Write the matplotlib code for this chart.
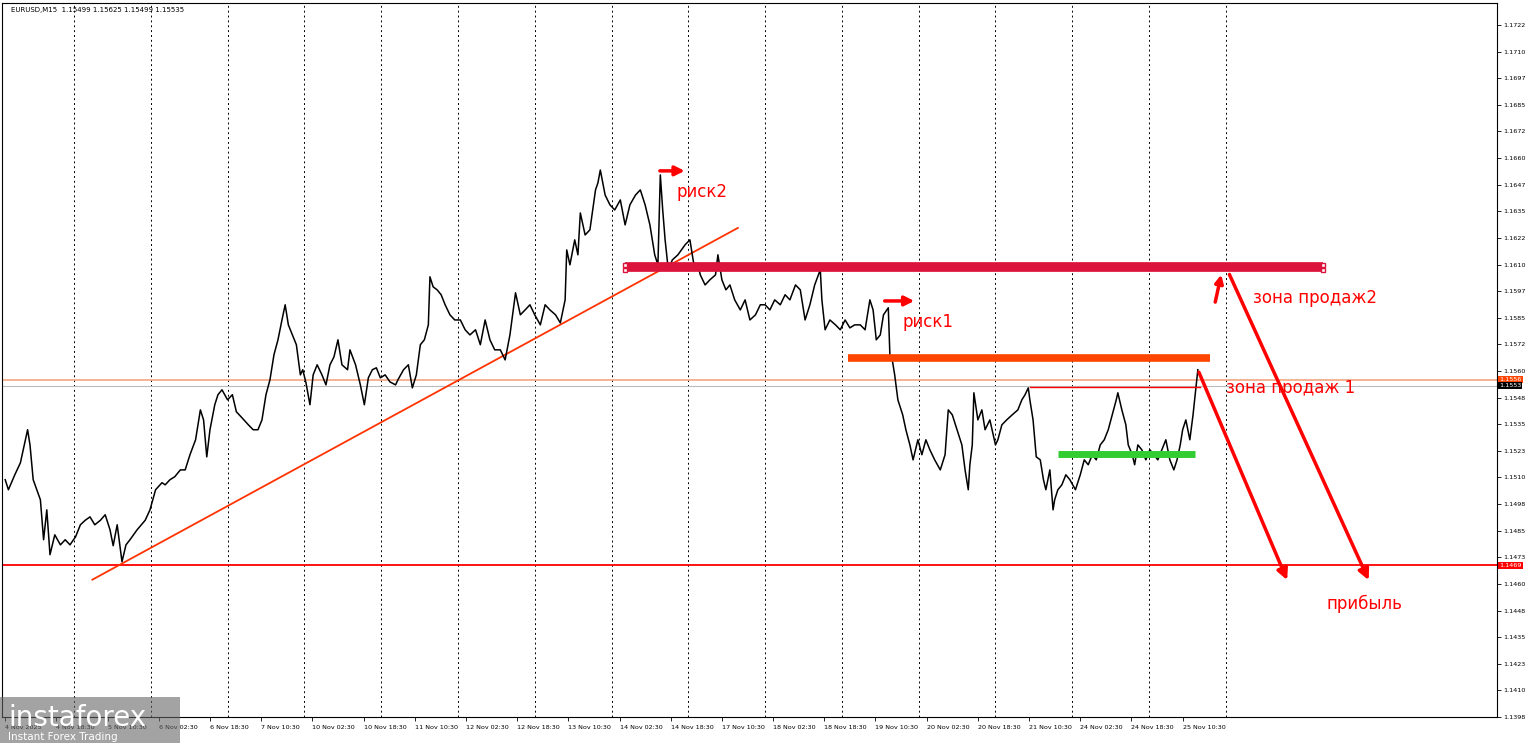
import matplotlib
matplotlib.use("Agg")
import matplotlib.pyplot as plt
from matplotlib.patches import FancyArrowPatch, Rectangle

bars = [0,4,12,19,28,31,35,44,48,52,56,62,69,75,81,88,94,100,106,112,119,125,131,135,140,146,151,156,165,175,181,188,196,200,206,212,219,225,231,238,244,248,252,256,262,266,271,278,284,289,296,304,310,316,321,326,331,336,341,346,350,354,359,364,369,372,376,381,385,390,396,401,406,411,416,421,428,431,438,444,449,454,459,464,469,475,481,488,491,498,504,509,514,519,524,529,531,535,540,545,550,
556,562,569,575,581,588,594,600,606,612,619,625,631,638,644,650,656,662,669,675,681,688,694,700,702,706,712,716,719,725,731,738,741,744,750,756,762,769,775,781,788,794,800,806,812,816,819,822,825,829,834,841,850,856,862,866,869,875,881,888,891,896,901,906,912,919,925,931,938,944,950,956,962,969,975,981,988,994,1000,1006,1012,1019,1021,1025,1031,1038,1044,1050,1056,1062,1069,1075,1081,1085,1089,1094,1098,1104,1106,
1109,1112,1116,1122,1126,1131,1135,1141,1146,1151,1156,1162,1169,1175,1179,1184,1190,1196,1200,1204,1206,1209,1211,1216,1221,1225,1231,1238,1241,1246,1252,1259,1266,1271,1275,1279,1281,1285,1289,1294,1298,1301,1306,1310,1312,1316,1321,1326,1331,1338,1344,1349,1354,1359,1364,1369,1374,1379,1384,1389,1391,1396,1401,1404,1409,1412,1416,1421,1426,1431,1436,1441,1446,1451,1456,1461,1465,1469,1472,1476,1481,1485,1489,1491]
prices = [1.15091,1.15044,1.15114,1.15170,1.15325,1.15254,1.15091,1.14997,1.14810,1.14950,1.14740,1.14833,1.14786,1.14810,1.14786,1.14824,1.14880,1.14901,1.14917,1.14880,1.14901,1.14927,1.14857,1.14782,1.14880,1.14707,1.14786,1.14810,1.14857,1.14901,1.14950,1.15044,1.15077,1.15067,1.15091,1.15105,1.15137,1.15137,1.15208,1.15278,1.15418,1.15371,1.15198,1.15325,1.15442,1.15489,1.15512,1.15465,1.15489,1.15409,1.15381,1.15348,1.15325,1.15325,1.15371,1.15489,1.15559,1.15676,1.15746,1.15839,1.15910,1.15816,1.15769,1.15723,1.15582,1.15606,1.15545,1.15442,1.15582,1.15629,1.15582,1.15535,1.15629,1.15666,1.15746,1.15629,1.15606,1.15699,1.15629,1.15535,1.15442,1.15568,1.15606,1.15615,1.15568,1.15582,1.15549,1.15535,1.15559,1.15606,1.15629,1.15521,1.15582,1.15723,1.15746,1.15816,1.16041,1.15994,1.15980,1.15957,1.15910,
1.15863,1.15839,1.15839,1.15793,1.15769,1.15793,1.15723,1.15839,1.15746,1.15699,1.15699,1.15652,1.15769,1.15966,1.15863,1.15886,1.15910,1.15863,1.15816,1.15910,1.15886,1.15863,1.15825,1.15933,1.16167,1.16097,1.16214,1.16144,1.16340,1.16237,1.16261,1.16448,1.16481,1.16541,1.16424,1.16378,1.16354,1.16401,1.16284,1.16378,1.16424,1.16448,1.16378,1.16284,1.16144,1.16097,1.16518,1.16354,1.16214,1.16074,1.16120,1.16144,1.16191,1.16214,1.16074,1.16097,1.16050,1.16003,1.16027,1.16050,1.16144,1.16027,1.15980,1.16003,1.15933,1.15886,1.15933,1.15839,1.15863,1.15910,1.15910,1.15886,1.15933,1.15910,1.15957,1.15933,1.16003,1.15980,1.15839,1.15910,1.16003,1.16074,1.15933,1.15793,1.15839,1.15816,1.15793,1.15839,1.15802,1.15816,1.15816,1.15793,1.15933,1.15886,1.15746,1.15769,1.15863,1.15896,1.15676,
1.15652,1.15582,1.15465,1.15395,1.15325,1.15254,1.15184,1.15278,1.15208,1.15278,1.15231,1.15184,1.15137,1.15208,1.15418,1.15395,1.15325,1.15254,1.15137,1.15044,1.15161,1.15254,1.15498,1.15371,1.15418,1.15325,1.15371,1.15254,1.15278,1.15348,1.15371,1.15395,1.15418,1.15465,1.15489,1.15521,1.15465,1.15371,1.15198,1.15184,1.15091,1.15044,1.15137,1.14950,1.14997,1.15044,1.15067,1.15114,1.15091,1.15044,1.15114,1.15184,1.15161,1.15208,1.15184,1.15254,1.15278,1.15325,1.15395,1.15465,1.15498,1.15418,1.15348,1.15254,1.15208,1.15161,1.15254,1.15231,1.15184,1.15231,1.15208,1.15184,1.15231,1.15278,1.15184,1.15137,1.15184,1.15254,1.15325,1.15371,1.15278,1.15395,1.15535,1.15606]

x_labels = ["4 Nov 2025","4 Nov 18:30","5 Nov 10:30","6 Nov 02:30","6 Nov 18:30","7 Nov 10:30",
            "10 Nov 02:30","10 Nov 18:30","11 Nov 10:30","12 Nov 02:30","12 Nov 18:30","13 Nov 10:30",
            "14 Nov 02:30","14 Nov 18:30","17 Nov 10:30","18 Nov 02:30","18 Nov 18:30","19 Nov 10:30",
            "20 Nov 02:30","20 Nov 18:30","21 Nov 10:30","24 Nov 02:30","24 Nov 18:30","25 Nov 10:30"]
y_low, y_high, n_y = 1.1398, 1.1722, 26

support = 1.1469
ask_line = 1.1556
bid_line = 1.1553
sell_zone2 = 1.16085
sell_zone1 = 1.15662
range_top = 1.15526
green_level = 1.15212

W, H = 1526, 743
fig = plt.figure(figsize=(W/100, H/100), dpi=100)
ax = fig.add_axes([2/W, 26/H, 1495/W, 714/H])
ax.set_xlim(-4, 1865)
ax.set_ylim(1.13981, 1.17323)

for k in range(16):
    ax.axvline(86 + 96*k, color="black", ls=(0, (2, 3)), lw=0.7, zorder=0)

ax.axhline(ask_line, color="#f4a582", lw=1.2, zorder=1)
ax.axhline(bid_line, color="#bbbbbb", lw=0.8, zorder=1)
ax.axhline(support, color="red", lw=1.3, zorder=1)

ax.plot(bars, prices, color="black", lw=1.1, zorder=3)

ax.plot([109, 916], [1.14623, 1.16270], color="#ff3300", lw=1.3, zorder=2)
ax.plot([775, 1648], [sell_zone2]*2, color="#dc143c", lw=7, solid_capstyle="butt", zorder=4)
ax.plot([775, 775, 1648, 1648], [sell_zone2+0.0001, sell_zone2-0.0001]*2, ls="none", marker="s",
        ms=3, mfc="white", mec="#dc143c", zorder=5)
ax.plot([1054, 1506], [sell_zone1]*2, color="#ff4500", lw=5.5, solid_capstyle="butt", zorder=4)
ax.plot([1281, 1494], [range_top]*2, color="red", lw=1.0, zorder=4)
ax.plot([1316, 1488], [green_level]*2, color="#32cd32", lw=5, solid_capstyle="butt", zorder=4)

def arrow(x0, y0, x1, y1, lw=2.5, ms=14):
    ax.add_patch(FancyArrowPatch((x0, y0), (x1, y1), arrowstyle="-|>", mutation_scale=ms,
                                 color="red", lw=lw, zorder=6))

arrow(815, 1.16537, 853, 1.16537, lw=2.5, ms=14)
arrow(1096, 1.15928, 1140, 1.15928, lw=2.5, ms=14)
arrow(1512, 1.15910, 1521, 1.16064, lw=2.5, ms=12)
arrow(1529, 1.16064, 1706, 1.14609, lw=2.5, ms=16)
arrow(1491, 1.15606, 1604, 1.14609, lw=2.5, ms=16)

tkw = dict(color="red", fontsize=12, va="center", ha="left", family="DejaVu Sans")
ax.text(839, 1.16439, "риск2", **tkw)
ax.text(1122, 1.15830, "риск1", **tkw)
ax.text(1560, 1.15940, "зона продаж2", **tkw)
ax.text(1526, 1.15520, "зона продаж 1", **tkw)
ax.text(1652, 1.14510, "прибыль", **tkw)

ax.text(0.006, 0.995, "EURUSD,M15  1.15499 1.15625 1.15499 1.15535", transform=ax.transAxes,
        fontsize=5, va="top", ha="left")

yt = [y_low + i*(y_high - y_low)/n_y for i in range(n_y + 1)]
ax.yaxis.tick_right()
ax.set_yticks(yt)
ax.set_yticklabels([f"{v:.4f}" for v in yt], fontsize=4.6)
ax.tick_params(axis="y", length=3, width=0.6, pad=1.5)
ax.set_xticks([64*i for i in range(len(x_labels))])
ax.set_xticklabels(x_labels, fontsize=4.6, ha="left")
ax.tick_params(axis="x", length=3, width=0.6, pad=3)
for s in ax.spines.values():
    s.set_linewidth(0.8)

for val, fc, tc in [(ask_line, "#ff4500", "white"), (bid_line, "black", "white"), (support, "red", "white")]:
    ax.text(1.0015, val, f"{val:.4f}", transform=ax.get_yaxis_transform(), fontsize=4.6,
            color=tc, va="center", ha="left",
            bbox=dict(boxstyle="square,pad=0.15", fc=fc, ec="none"))

fig.patches.append(Rectangle((0, 0), 180/W, 46/H, transform=fig.transFigure,
                             fc="#666666", alpha=0.6, zorder=10))
fig.text(8/W, 25/H, "instaforex", color="white", fontsize=20, va="center", ha="left", zorder=11)
fig.text(8/W, 6/H, "Instant Forex Trading", color="white", fontsize=7.5, va="center", ha="left", zorder=11)

fig.savefig("out.png", dpi=100)
